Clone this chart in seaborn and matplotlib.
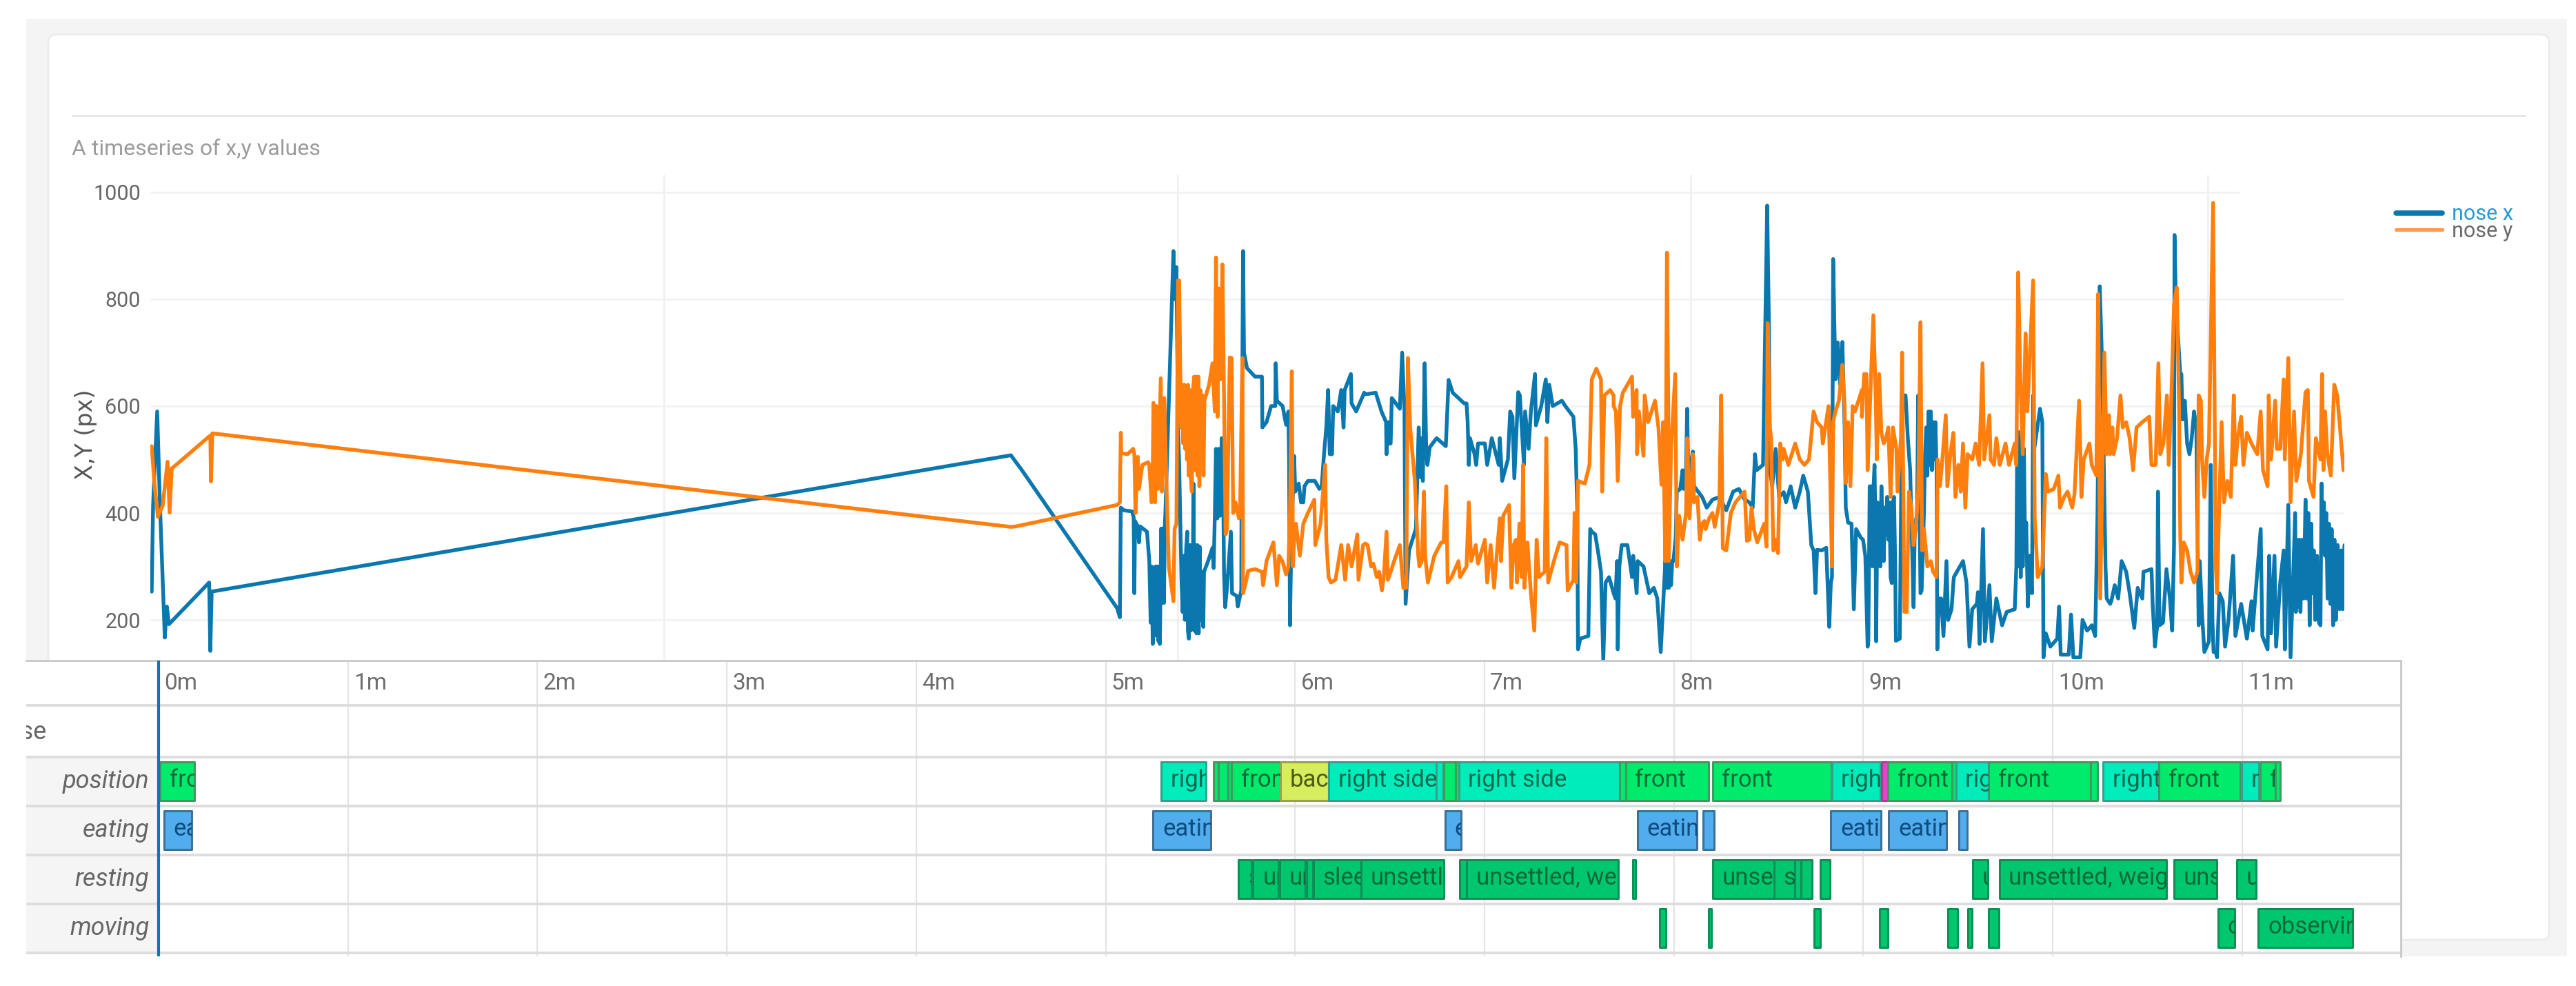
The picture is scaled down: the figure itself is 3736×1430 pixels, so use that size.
import numpy as np
import pandas as pd
import matplotlib
matplotlib.use("Agg")
import matplotlib.pyplot as plt
import seaborn as sns
from matplotlib.patches import FancyBboxPatch, Rectangle
from matplotlib.transforms import IdentityTransform

W, H = 3737, 1430
FRAMES_PER_MIN = 824

# ---- tracking data, (frame offset, value) ----
nose_x_start = [(-30, 253), (-24, 414), (-6, 590), (6, 414), (27, 167), (36, 225), (45, 192), (220, 270), (225, 142),
                (231, 253), (3708, 508), (3730, 495), (3756, 480)]
nose_y_start = [(-30, 525), (-18, 455), (-3, 393), (18, 414), (39, 496), (48, 401), (57, 483), (225, 545), (228, 459),
                (234, 549), (3708, 374), (3730, 375)]

# stretch beginning at frame 4170
nose_x_a = [(0, 222), (12, 205), (16, 410), (30, 405), (65, 403), (72, 392), (75, 250), (78, 385), (90, 375), (95, 345),
            (100, 375), (130, 365), (140, 310), (146, 195), (150, 300), (155, 155), (159, 290), (163, 210), (167, 300),
            (172, 170), (176, 300), (180, 160), (184, 300), (186, 155), (192, 371), (196, 232), (200, 371), (204, 232),
            (207, 371), (210, 400), (245, 890), (250, 800), (258, 860), (265, 560),
            (270, 490), (280, 275), (285, 215), (290, 320), (295, 200), (300, 330), (305, 365), (308, 180), (312, 165),
            (316, 340), (320, 180), (324, 340), (328, 190), (332, 455), (336, 180), (340, 340), (345, 175), (350, 340),
            (355, 175), (359, 337), (362, 200), (368, 290), (375, 187), (378, 290), (395, 309), (415, 335), (420, 297),
            (425, 395), (430, 520), (436, 390), (442, 520), (448, 395), (455, 540), (462, 420), (465, 290), (470, 224),
            (478, 260), (495, 365), (500, 250), (520, 245), (525, 225), (540, 255), (541, 400), (548, 890), (552, 700),
            (565, 671), (600, 655), (630, 655), (632, 560), (650, 570), (670, 600), (688, 600), (690, 680), (695, 610),
            (720, 600), (735, 565), (745, 590), (748, 500), (752, 190), (758, 350), (770, 507), (775, 440), (790, 455),
            (800, 420), (810, 420), (815, 450), (830, 460), (860, 460), (880, 445), (890, 450), (900, 510), (910, 560),
            (918, 630), (925, 510), (935, 510), (940, 600), (960, 590), (975, 630), (985, 560), (990, 630), (1017, 660),
            (1020, 605), (1040, 590), (1075, 625)]
nose_y_a = [(0, 415), (12, 420), (16, 550), (18, 512), (45, 510), (70, 520), (75, 510), (80, 400), (90, 505), (95, 445),
            (110, 490), (135, 495), (140, 490), (150, 420), (155, 480), (158, 606), (165, 420), (172, 600), (178, 445),
            (190, 652), (195, 440), (205, 615), (215, 450), (225, 300), (245, 235), (250, 370), (258, 380), (265, 835),
            (270, 835), (278, 560), (283, 640), (288, 530), (292, 640), (296, 520), (300, 615), (304, 500), (308, 640),
            (312, 470), (316, 630), (320, 470), (325, 440), (330, 630), (335, 655), (340, 480), (345, 655), (350, 470),
            (354, 655), (358, 450), (362, 630), (366, 500), (372, 620), (376, 470), (380, 610), (400, 640),
            (415, 680), (425, 590), (430, 878), (437, 580), (442, 820), (450, 650), (458, 865), (465, 620), (472, 360),
            (478, 370), (490, 691), (498, 690), (505, 400), (515, 420), (530, 390), (535, 410), (545, 690), (548, 250),
            (560, 270), (570, 292), (600, 295), (630, 290), (635, 265), (650, 310), (680, 345), (695, 265), (705, 320),
            (720, 309), (735, 285), (745, 300), (752, 400), (760, 665), (765, 300), (770, 350), (778, 380), (795, 320),
            (810, 380), (830, 400), (858, 425), (862, 340), (885, 380), (905, 490), (910, 350), (920, 280), (930, 270),
            (950, 275), (975, 340), (992, 275), (1005, 340), (1020, 300), (1045, 360), (1050, 275), (1070, 340)]

# stretch beginning at frame 5250
nose_x_b = [(0, 622), (45, 625), (70, 590), (90, 570), (92, 510), (100, 570), (105, 530), (110, 530), (115, 615),
            (150, 595), (160, 700), (170, 595), (175, 230), (190, 330), (220, 371), (232, 560), (240, 467), (245, 540),
            (250, 460), (258, 680), (265, 510), (270, 490), (280, 523), (310, 540), (350, 525), (362, 649), (380, 625),
            (430, 605), (440, 605), (445, 570), (450, 490), (455, 540), (475, 510), (482, 490), (490, 530), (520, 530),
            (530, 490), (550, 540), (580, 490), (585, 540), (595, 460), (620, 500), (630, 590), (640, 580), (648, 465),
            (665, 626), (672, 620), (690, 490), (695, 590), (710, 520), (720, 590), (738, 660), (742, 564), (765, 600),
            (785, 650), (792, 570), (800, 640), (815, 600), (855, 610), (870, 600), (905, 580), (915, 520), (922, 400),
            (925, 145), (935, 165), (970, 170), (978, 370), (985, 365), (1000, 360), (1015, 320), (1025, 290),
            (1035, 125), (1045, 270), (1060, 280), (1080, 250)]
nose_y_b = [(0, 343), (10, 340), (25, 300), (35, 305), (50, 280), (60, 290), (72, 255), (80, 280), (92, 365), (98, 275),
            (110, 290), (125, 310), (150, 340), (165, 260), (178, 260), (185, 690), (195, 560), (215, 460), (230, 320),
            (235, 300), (245, 310), (255, 440), (260, 320), (272, 270), (300, 320), (330, 345), (340, 345), (352, 450),
            (358, 270), (375, 280), (405, 310), (412, 280), (440, 300), (450, 420), (460, 310), (480, 340), (490, 305),
            (520, 350), (530, 270), (545, 340), (560, 260), (575, 340), (585, 390), (590, 310), (600, 395), (625, 415),
            (635, 260), (645, 340), (655, 350), (660, 270), (670, 380), (680, 280), (686, 490), (692, 260), (705, 345),
            (720, 250), (735, 180), (745, 350), (755, 280), (780, 290), (787, 540), (795, 270), (820, 310), (845, 345),
            (875, 340), (880, 255), (905, 275), (910, 400), (918, 270), (925, 460), (955, 455), (975, 490), (985, 650),
            (1005, 670), (1025, 650), (1030, 440), (1040, 620), (1065, 630), (1080, 620)]

# stretch beginning at frame 6330
nose_x_c = [(8, 240), (15, 310), (18, 145), (25, 300), (35, 340), (60, 340), (80, 280), (85, 320), (90, 300), (100, 250),
            (105, 310), (130, 300), (155, 250), (175, 260), (190, 240), (205, 140), (215, 225), (225, 310), (230, 260),
            (235, 310), (240, 260), (245, 310), (250, 265), (255, 310), (260, 310), (270, 354), (275, 440), (290, 445),
            (300, 480), (305, 445), (315, 480),
            (320, 595), (325, 470), (345, 515), (350, 450), (385, 430), (405, 410), (430, 425), (460, 430), (490, 405),
            (520, 440), (545, 445), (570, 425), (590, 420), (605, 410), (615, 510), (622, 480), (650, 490), (668, 975),
            (675, 770), (680, 480), (690, 450), (705, 520), (720, 430), (740, 439), (750, 420), (770, 450), (790, 410),
            (810, 440), (825, 470), (845, 440), (860, 340), (870, 330), (878, 250), (885, 331), (905, 330), (925, 335),
            (938, 187), (945, 270), (950, 280), (955, 875), (965, 650), (975, 719), (985, 640), (995, 720), (1005, 560),
            (1010, 410), (1020, 382), (1035, 380), (1045, 220), (1055, 370), (1075, 354)]
nose_y_c = [(0, 600), (10, 590), (18, 460), (28, 600), (40, 625), (80, 655), (85, 580), (100, 630), (102, 510),
            (110, 590), (130, 507), (135, 620), (150, 570), (180, 610), (195, 560), (208, 453), (215, 570), (225, 310),
            (232, 887), (238, 590), (240, 310), (250, 520), (268, 660), (275, 300), (285, 395), (300, 350), (315, 400),
            (320, 540), (330, 390), (345, 510), (350, 420), (365, 430), (375, 350), (385, 380), (395, 385), (400, 370),
            (415, 390), (430, 400), (440, 374), (460, 420), (468, 620), (475, 334), (490, 330), (510, 400), (530, 420),
            (570, 440), (580, 348), (590, 350), (600, 410), (610, 370), (625, 345), (655, 380), (665, 337), (670, 755),
            (680, 560), (685, 540), (695, 330), (705, 350), (715, 325), (725, 530), (735, 500), (740, 520), (760, 490),
            (790, 530), (810, 500), (830, 490), (850, 500), (870, 590), (885, 570), (905, 560), (910, 530), (935, 600),
            (940, 510), (950, 300), (955, 570), (965, 590), (980, 610), (995, 677), (1005, 600), (1010, 456), (1020, 570),
            (1030, 450), (1040, 600), (1050, 590), (1080, 630)]

# stretch beginning at frame 7410
nose_x_d = [(5, 350), (15, 320), (25, 150), (28, 160), (34, 450), (38, 330), (42, 450), (46, 300), (50, 440), (55, 490),
            (60, 340), (62, 160), (68, 420), (72, 340), (76, 410), (80, 300), (85, 450), (90, 370), (95, 310), (100, 410),
            (104, 360), (110, 430), (115, 350), (120, 420), (125, 280), (130, 269), (135, 420), (140, 430), (145, 300),
            (148, 161), (165, 165), (175, 620),
            (190, 620), (200, 540), (210, 480), (225, 224), (230, 370), (240, 400), (245, 620), (255, 250), (260, 255),
            (270, 400), (275, 510), (280, 560), (285, 470), (290, 590), (295, 490), (300, 590), (305, 480), (310, 570),
            (315, 500), (320, 570), (325, 480), (328, 145), (335, 240), (345, 240), (355, 170),
            (368, 310), (375, 200), (390, 220), (400, 280), (440, 310), (455, 270), (468, 150), (480, 220), (500, 230),
            (505, 252), (512, 155), (527, 370), (535, 160), (555, 265), (565, 160), (585, 240), (610, 190), (630, 215),
            (665, 220), (672, 300), (676, 550), (680, 552), (683, 300), (687, 540), (691, 280), (695, 520), (700, 300),
            (705, 520), (710, 340), (715, 382), (722, 225), (730, 320),
            (740, 250), (745, 620), (750, 520), (760, 550), (775, 595), (785, 570), (790, 130), (800, 175), (820, 150),
            (850, 165), (858, 225), (865, 135), (900, 135), (910, 210), (920, 130), (950, 130), (960, 200), (980, 180),
            (1000, 190), (1015, 170), (1025, 400), (1035, 824), (1045, 680), (1060, 300), (1065, 240), (1080, 230)]
nose_y_d = [(0, 580), (10, 660), (20, 660), (25, 480), (35, 600), (50, 770), (60, 620), (65, 500), (75, 660), (85, 550),
            (95, 530), (105, 540), (115, 560), (125, 430), (135, 560), (150, 520), (155, 440), (170, 540), (175, 700),
            (185, 215), (195, 215), (205, 440), (215, 410), (225, 340), (235, 370), (245, 440), (255, 757), (262, 330),
            (270, 370), (285, 300), (300, 310), (310, 290), (325, 280), (330, 500), (340, 450), (352, 510), (365, 583),
            (372, 450), (385, 510), (398, 550), (407, 430), (420, 490), (430, 440), (440, 530), (450, 410), (460, 510),
            (480, 500), (495, 530), (510, 490), (525, 680), (532, 500), (555, 583), (560, 500), (575, 490), (585, 540),
            (600, 490), (625, 530), (640, 490), (665, 530), (672, 490), (680, 850), (690, 640), (700, 510), (712, 736),
            (720, 590), (745, 835), (752, 390), (765, 280), (785, 300), (800, 473), (810, 440), (835, 445), (855, 470),
            (862, 410), (880, 430), (895, 440), (915, 410), (925, 435), (945, 610), (955, 430), (965, 500), (990, 530),
            (1000, 490), (1020, 470), (1028, 810), (1037, 240), (1055, 700), (1065, 510), (1075, 583)]

# stretch beginning at frame 8460
nose_x_e = [(35, 235), (50, 265), (65, 240), (80, 310), (100, 290), (115, 250), (135, 185), (150, 260), (170, 240),
            (175, 290), (210, 295), (215, 230), (225, 150), (235, 190), (238, 440), (245, 190), (260, 195), (275, 295),
            (290, 240), (300, 180), (308, 340), (310, 920), (316, 800), (335, 660), (340, 660), (345, 575), (355, 610),
            (365, 530), (375, 510), (385, 540), (395, 590), (405, 560), (412, 300), (415, 190), (420, 310), (430, 210),
            (440, 140), (460, 160), (468, 490), (475, 200), (480, 140), (490, 140), (495, 130), (505, 250), (520, 235),
            (530, 150), (545, 200), (565, 320), (575, 170), (600, 230), (625, 165), (645, 235), (650, 180), (685, 370),
            (692, 170), (715, 145), (722, 320), (730, 175), (745, 320), (752, 150), (770, 270), (785, 330), (790, 145),
            (805, 415), (815, 130), (835, 400), (838, 215), (843, 350), (848, 225), (853, 350), (858, 215), (865, 350),
            (872, 240), (880, 425), (886, 240), (892, 400), (898, 190), (905, 380), (910, 250), (916, 330), (922, 200),
            (930, 320), (938, 195), (945, 190), (950, 455), (955, 330), (960, 420), (965, 320), (970, 400), (976, 240),
            (982, 380), (988, 230), (994, 370), (1000, 190), (1006, 350), (1012, 200), (1020, 340), (1028, 220),
            (1035, 330), (1042, 220), (1050, 340), (1052, 240)]
nose_y_e = [(30, 510), (40, 560), (45, 510), (60, 540), (75, 620), (85, 560), (100, 570), (115, 540), (130, 480),
            (145, 560), (170, 570), (200, 580), (210, 490), (228, 490), (240, 680), (248, 510), (262, 530), (277, 620),
            (285, 490), (295, 600), (308, 790), (320, 822), (330, 600), (335, 360), (340, 270), (350, 345), (365, 330),
            (380, 290), (395, 270), (410, 290), (415, 620), (425, 610), (430, 500), (440, 430), (450, 500), (460, 530),
            (478, 980), (490, 300), (495, 250), (505, 420), (515, 570), (525, 420), (540, 460), (555, 430), (568, 620),
            (575, 490), (585, 540), (600, 580), (610, 490), (625, 550), (645, 530), (670, 510), (685, 590), (695, 480),
            (715, 450), (720, 620), (730, 500), (748, 610), (755, 520), (770, 520), (785, 650), (790, 500), (805, 690),
            (815, 420), (830, 590), (840, 460), (860, 510), (880, 626), (890, 630), (895, 460), (915, 430), (925, 540),
            (945, 500), (952, 660), (958, 480), (965, 590), (975, 510), (990, 470), (1005, 640), (1018, 620), (1030, 560),
            (1045, 480), (1052, 510)]

stretch_starts = [0, 4170, 5250, 6330, 7410, 8460]
nose_x_stretches = [nose_x_start, nose_x_a, nose_x_b, nose_x_c, nose_x_d, nose_x_e]
nose_y_stretches = [nose_y_start, nose_y_a, nose_y_b, nose_y_c, nose_y_d, nose_y_e]

# ---- behaviour annotations, (start min, end min, label, kind) ----
position_bouts = [(0.007, 0.19, "front", "front"), (5.293, 5.528, "right side", "right"), (5.569, 5.595, "", "front"),
                  (5.595, 5.646, "front", "front"), (5.646, 5.664, "", "front"), (5.664, 5.922, "front", "front"),
                  (5.922, 6.177, "back", "back"), (6.177, 6.744, "right side", "right"), (6.744, 6.782, "", "right"),
                  (6.787, 6.846, "", "front"), (6.846, 6.864, "", "front"), (6.864, 7.714, "right side", "right"),
                  (7.714, 7.745, "", "front"), (7.745, 8.184, "front", "front"), (8.204, 8.830, "front", "front"),
                  (8.834, 9.090, "right side", "right"), (9.098, 9.130, "", "left"), (9.130, 9.467, "front", "front"),
                  (9.467, 9.489, "", "front"), (9.489, 9.663, "right side", "right"), (9.663, 10.199, "front", "front"),
                  (10.199, 10.238, "", "front"), (10.265, 10.560, "right side", "right"),
                  (10.560, 10.991, "front", "front"), (10.999, 11.089, "right side", "right"),
                  (11.096, 11.175, "front", "front"), (11.175, 11.202, "", "front")]
eating_bouts = [(0.029, 0.175, "eating", "eat"), (5.250, 5.554, "eating", "eat"), (6.792, 6.877, "eating", "eat"),
                (7.809, 8.120, "eating", "eat"), (8.154, 8.212, "eating", "eat"), (8.829, 9.093, "eating", "eat"),
                (9.135, 9.438, "eating", "eat"), (9.504, 9.547, "", "eat")]
resting_bouts = [(5.702, 5.771, "sleeping", "rest"), (5.779, 5.911, "unsettled", "rest"), (5.919, 6.054, "unsettled", "rest"),
                 (6.060, 6.093, "", "rest"), (6.098, 6.348, "sleeping", "rest"), (6.348, 6.787, "unsettled", "rest"),
                 (6.869, 6.907, "", "rest"), (6.907, 7.707, "unsettled, weight shift", "rest"), (7.783, 7.796, "", "rest"),
                 (8.204, 8.529, "unsettled", "rest"), (8.529, 8.639, "sleeping", "rest"), (8.639, 8.672, "", "rest"),
                 (8.672, 8.728, "", "rest"), (8.774, 8.823, "", "rest"), (9.578, 9.658, "unsettled", "rest"),
                 (9.718, 10.600, "unsettled, weight shift", "rest"), (10.640, 10.867, "unsettled", "rest"),
                 (10.972, 11.075, "unsettled", "rest")]
moving_bouts = [(7.924, 7.957, "", "rest"), (8.184, 8.197, "", "rest"), (8.739, 8.773, "", "rest"), (9.087, 9.130, "", "rest"),
                (9.446, 9.499, "", "rest"), (9.552, 9.573, "", "rest"), (9.663, 9.716, "", "rest"),
                (10.872, 10.962, "observing", "rest"), (11.086, 11.585, "observing", "rest")]

row_names = ["position", "eating", "resting", "moving"]
minute_ticks = list(range(12))
y_ticks = [200, 400, 600, 800, 1000]
top_grid_minutes = [2.67, 5.38, 8.09, 10.82]

kind_fill = {"front": "#00EA6C", "right": "#00EDBB", "back": "#D6EE5E", "left": "#E046C8", "eat": "#52ADEE", "rest": "#00C76E"}
kind_edge = {"front": "#3F9A62", "right": "#35A08C", "back": "#9AA34A", "left": "#A83C98", "eat": "#3D7198", "rest": "#0C9057"}
kind_text = {"front": "#0A6A38", "right": "#0A6A50", "back": "#4F5A12", "left": "#50104A", "eat": "#0E4C7E", "rest": "#0A6A38"}

BLUE = "#0A78AE"
ORANGE = "#FF7F0E"


def build_long_table():
    rows = []
    for name, stretches in [("nose x", nose_x_stretches), ("nose y", nose_y_stretches)]:
        for start, points in zip(stretch_starts, stretches):
            for off, val in points:
                rows.append({"minutes": (start + off) / FRAMES_PER_MIN, "px": val, "series": name})
    return pd.DataFrame(rows)


def axes_from_pixels(fig, left, top, right, bottom, **kw):
    return fig.add_axes([left / W, 1 - bottom / H, (right - left) / W, (bottom - top) / H], **kw)


def pixel_rect(fig, left, top, right, bottom, color, zorder=0):
    fig.add_artist(Rectangle((left, H - bottom), right - left, bottom - top, transform=IdentityTransform(),
                             facecolor=color, edgecolor="none", zorder=zorder))


sns.set_theme(style="white")
plt.rcParams["font.family"] = ["Roboto", "DejaVu Sans"]

fig = plt.figure(figsize=(W / 100, H / 100), dpi=100, facecolor="white")

# ---- page background and card ----
pixel_rect(fig, 38, 27, 3723, 1387, "#F4F4F4", zorder=-3)
fig.add_artist(FancyBboxPatch((78, H - 1355), 3611, 1297, boxstyle="round,pad=8,rounding_size=12",
                              transform=IdentityTransform(), facecolor="white", edgecolor="#ECECEC",
                              linewidth=2, zorder=-2))
pixel_rect(fig, 104, 167, 3663, 170, "#E6E6E6", zorder=-1)
fig.text(104 / W, 1 - 216 / H, "A timeseries of x,y values", fontsize=23, color="#9C9C9C", va="center", ha="left")

# ---- x,y timeseries ----
ax = axes_from_pixels(fig, 218, 254, 3400, 958)
ax.patch.set_alpha(0)
df = build_long_table()
sns.lineplot(data=df, x="minutes", y="px", hue="series", palette={"nose x": BLUE, "nose y": ORANGE},
             estimator=None, sort=False, linewidth=3.9, ax=ax, legend=True)
ax.set_xlim((218 - 230) / 274.7, (3400 - 230) / 274.7)
ax.set_ylim(124, 1032)
for v in y_ticks:
    ax.axhline(v, xmax=0.952 if v == 1000 else 1, color="#F2F2F2", linewidth=2, zorder=0)
for m in top_grid_minutes:
    ax.axvline(m, color="#F0F0F0", linewidth=2, zorder=0)
ax.set_yticks(y_ticks)
ax.set_xticks([])
ax.tick_params(axis="y", length=0, pad=10, labelsize=22, labelcolor="#666666")
ax.set_xlabel("")
ax.set_ylabel("X,Y (px)", fontsize=24, color="#555555", labelpad=-4, y=0.466, family=["DejaVu Sans"])
sns.despine(ax=ax, left=True, bottom=True)

sns.move_legend(ax, loc="center left", bbox_to_anchor=(3475 / W, 1 - 323 / H), bbox_transform=fig.transFigure,
                frameon=False, title=None, fontsize=22, handlelength=2.2, labelspacing=-0.15, handletextpad=0.45,
                borderpad=0, borderaxespad=0)
leg = ax.get_legend()
leg.get_texts()[0].set_color("#2A9AD0")
leg.get_texts()[1].set_color("#6A6A6A")
leg.get_lines()[0].set_linewidth(5.5)
leg.get_lines()[1].set_linewidth(3.8)
leg.get_lines()[1].set_color("#FF9A4D")

# ---- behaviour timeline ----
tl = axes_from_pixels(fig, 38, 958, 3482, 1387, facecolor="white")
tl.set_xlim((38 - 230) / 274.7, (3482 - 230) / 274.7)
tl.set_ylim(4.577, -1.465)
tl.axhspan(0.5, 4.5, xmin=0, xmax=(230 - 38) / (3482 - 38), color="#F5F5F5", linewidth=0, zorder=0)
for m in minute_ticks:
    tl.axvline(m, color="#E4E4E4", linewidth=1.6, zorder=1)
    tl.text(m + 0.03, -1.0, f"{m}m", fontsize=24, color="#6E6E6E", va="center", ha="left")
for y in [-0.55, 0.5, 1.5, 2.5, 3.5, 4.5]:
    tl.axhline(y, color="#DDDDDD", linewidth=2.8, zorder=1)

for row, bouts in enumerate([position_bouts, eating_bouts, resting_bouts, moving_bouts], start=1):
    tl.text(-0.05, row, row_names[row - 1], fontsize=26, style="italic", color="#666666", va="center", ha="right")
    for start, end, label, kind in bouts:
        bar = tl.barh(row, end - start, left=start, height=0.78, color=kind_fill[kind], edgecolor=kind_edge[kind],
                      linewidth=2.2, zorder=3)[0]
        bar.set_joinstyle("round")
        if label:
            txt = tl.text(start + 0.05, row - 0.02, label, fontsize=25, color=kind_text[kind], va="center", ha="left", zorder=4)
            txt.set_clip_path(bar)
            txt.set_clip_on(True)

tl.text(-0.59, 0, "nose", fontsize=26, color="#666666", va="center", ha="right", clip_on=True)
tl.axvline(0, color=BLUE, linewidth=3, zorder=5)
tl.set_xticks([])
tl.set_yticks([])
for side in ["left", "bottom"]:
    tl.spines[side].set_visible(False)
for side in ["top", "right"]:
    tl.spines[side].set_color("#C8C8C8")
    tl.spines[side].set_linewidth(2)

fig.savefig("out.png", dpi=100)
